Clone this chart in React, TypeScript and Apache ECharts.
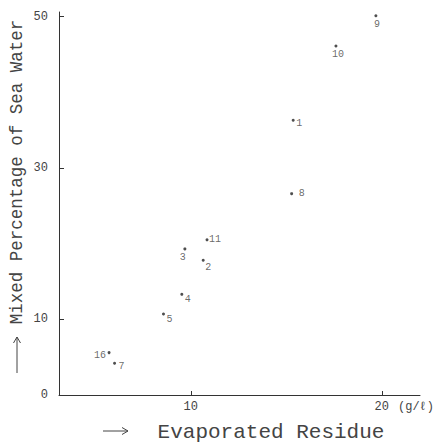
import React, { useEffect, useRef } from "react";
import * as echarts from "echarts";

// Sample numbers beside each point
const pointIds = ["1", "2", "3", "4", "5", "7", "8", "9", "10", "11", "16"];
// Evaporated residue (g/l)
const residue = [15.36, 10.65, 9.69, 9.53, 8.57, 6.01, 15.28, 19.69, 17.6, 10.85, 5.72];
// Mixed percentage of sea water
const seaWaterPct = [36.3, 17.8, 19.3, 13.3, 10.7, 4.2, 26.6, 50.1, 46.1, 20.5, 5.6];

const xTickValues = [10, 20];
const yTickValues = [10, 30, 50];
const yLabelValues = [0, 10, 30, 50];

const xAxisTitle = "Evaporated Residue";
const yAxisTitle = "Mixed Percentage of Sea Water";
const unitText = "(g/ℓ)";

// label offsets (style only)
const labelOffsets: Record<string, [number, number]> = {
  "1": [6, 3],
  "2": [5, 7],
  "3": [-2, 9],
  "4": [6, 5],
  "5": [6, 5],
  "7": [7, 3],
  "8": [10, 0],
  "9": [1, 9],
  "10": [2, 8],
  "11": [8, 0],
  "16": [-9, 3],
};

const INK = "#333";
const FONT = "'Liberation Mono', 'DejaVu Sans Mono', monospace";

export default function App() {
  const ref = useRef<HTMLDivElement>(null);
  useEffect(() => {
    document.body.style.margin = "0";
    if (!ref.current) return;
    const chart = echarts.init(ref.current, null, { renderer: "svg" });
    const data = pointIds.map((id, i) => ({
      name: id,
      value: [residue[i], seaWaterPct[i]],
      label: { offset: labelOffsets[id] || [6, 0] },
    }));
    chart.setOption({
      animation: false,
      backgroundColor: "#fff",
      grid: { left: 59, right: 13, top: 12, bottom: 53 },
      xAxis: {
        type: "value",
        min: 3.1,
        max: 22,
        splitLine: { show: false },
        axisLine: { lineStyle: { color: INK, width: 1 } },
        axisTick: { customValues: xTickValues, inside: true, length: 4, lineStyle: { color: INK } },
        axisLabel: {
          customValues: xTickValues,
          color: "#444",
          fontSize: 12,
          fontFamily: FONT,
          margin: 6,
        },
      },
      yAxis: {
        type: "value",
        min: 0,
        max: 50.6,
        splitLine: { show: false },
        axisLine: { lineStyle: { color: INK, width: 1 } },
        axisTick: { customValues: yTickValues, inside: true, length: 5, lineStyle: { color: INK } },
        axisLabel: {
          customValues: yLabelValues,
          color: "#444",
          fontSize: 12,
          fontFamily: FONT,
          margin: 11,
        },
      },
      series: [
        {
          type: "scatter",
          symbol: "circle",
          symbolSize: 3,
          itemStyle: { color: "#222" },
          data,
          label: {
            show: true,
            position: "inside",
            formatter: "{b}",
            color: "#444",
            fontSize: 10,
            fontFamily: FONT,
            align: "center",
            verticalAlign: "middle",
          },
        },
      ],
      graphic: [
        {
          type: "text",
          x: 17,
          y: 172,
          rotation: Math.PI / 2,
          style: {
            text: yAxisTitle,
            fill: "#444",
            fontSize: 17.5,
            fontFamily: FONT,
            align: "center",
            verticalAlign: "middle",
          },
        },
        { type: "line", shape: { x1: 17, y1: 373, x2: 17, y2: 337 }, style: { stroke: "#444", lineWidth: 1 } },
        {
          type: "polyline",
          shape: { points: [[13.5, 343], [17, 337], [20.5, 343]] },
          style: { stroke: "#444", lineWidth: 1, fill: "none" },
        },
        {
          type: "text",
          x: 271,
          y: 432,
          style: {
            text: xAxisTitle,
            fill: "#444",
            fontSize: 21,
            fontFamily: FONT,
            align: "center",
            verticalAlign: "middle",
          },
        },
        { type: "line", shape: { x1: 103, y1: 431, x2: 128, y2: 431 }, style: { stroke: "#444", lineWidth: 1 } },
        {
          type: "polyline",
          shape: { points: [[122, 427.5], [128, 431], [122, 434.5]] },
          style: { stroke: "#444", lineWidth: 1, fill: "none" },
        },
        {
          type: "text",
          x: 398,
          y: 407,
          style: {
            text: unitText,
            fill: "#444",
            fontSize: 12,
            fontFamily: FONT,
            align: "left",
            verticalAlign: "middle",
          },
        },
      ],
    });
    return () => chart.dispose();
  }, []);
  return <div ref={ref} style={{ width: 433, height: 448 }} />;
}
